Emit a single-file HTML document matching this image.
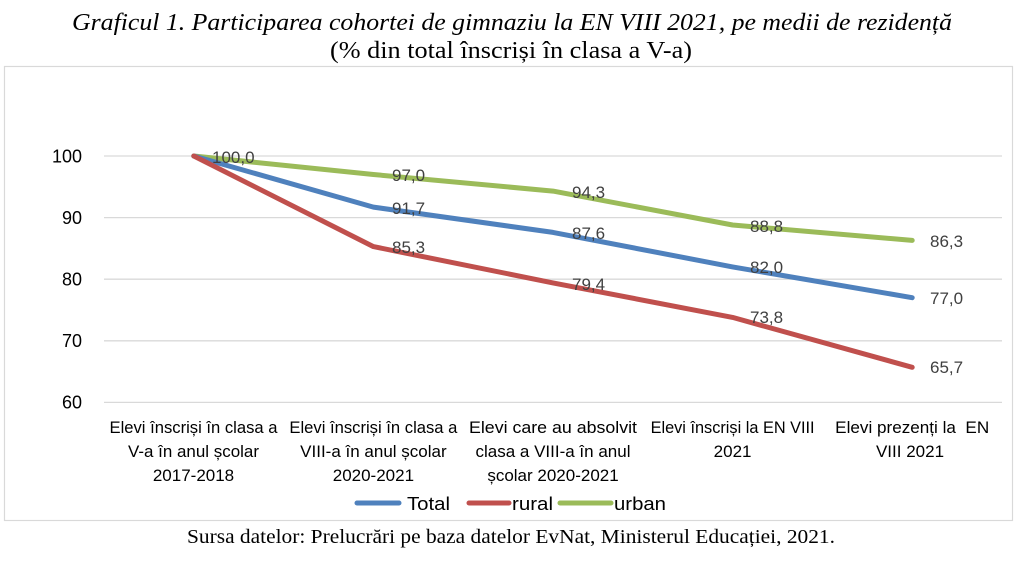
<!DOCTYPE html>
<html>
<head>
<meta charset="utf-8">
<style>
  html,body{margin:0;padding:0;background:#fff;}
  svg{display:block;}
  .ax{font-family:"Liberation Sans",sans-serif;font-size:18px;fill:#000;}
  .dl{font-family:"Liberation Sans",sans-serif;font-size:17px;fill:#404040;}
  .cat{font-family:"Liberation Sans",sans-serif;font-size:17px;fill:#000;}
  .leg{font-family:"Liberation Sans",sans-serif;font-size:18.5px;fill:#000;}
  .ttl{font-family:"Liberation Serif",serif;font-size:24px;fill:#000;}
</style>
</head>
<body>
<svg width="1024" height="574" viewBox="0 0 1024 574" xmlns="http://www.w3.org/2000/svg">
  <rect width="1024" height="574" fill="#fff"/>
  <!-- Title -->
  <text class="ttl" x="512" y="30" text-anchor="middle" font-style="italic" textLength="880" lengthAdjust="spacingAndGlyphs">Graficul 1. Participarea cohortei de gimnaziu la EN VIII 2021, pe medii de rezidență</text>
  <text class="ttl" x="511" y="58" text-anchor="middle" textLength="362" lengthAdjust="spacingAndGlyphs">(% din total înscriși în clasa a V-a)</text>

  <!-- Chart border -->
  <rect x="4.5" y="66.5" width="1008" height="454" fill="#fff" stroke="#d9d9d9" stroke-width="1.2"/>

  <!-- Gridlines -->
  <g stroke="#d9d9d9" stroke-width="1.3">
    <line x1="104" y1="156" x2="1002" y2="156"/>
    <line x1="104" y1="217.6" x2="1002" y2="217.6"/>
    <line x1="104" y1="279.2" x2="1002" y2="279.2"/>
    <line x1="104" y1="340.8" x2="1002" y2="340.8"/>
    <line x1="104" y1="402.4" x2="1002" y2="402.4"/>
  </g>

  <!-- Y tick labels -->
  <g class="ax" text-anchor="end">
    <text x="82" y="162.5">100</text>
    <text x="82" y="224">90</text>
    <text x="82" y="285.5">80</text>
    <text x="82" y="347">70</text>
    <text x="82" y="408.5">60</text>
  </g>

  <!-- Series -->
  <g fill="none" stroke-width="5" stroke-linejoin="round" stroke-linecap="round">
    <polyline stroke="#9BBB59" points="193.8,156 373.4,174.5 553,191.1 732.6,225 912.2,240.4"/>
    <polyline stroke="#4F81BD" points="193.8,156 373.4,207.1 553,232.4 732.6,266.9 912.2,297.7"/>
    <polyline stroke="#C0504D" points="193.8,156 373.4,246.6 553,282.9 732.6,317.4 912.2,367.3"/>
  </g>

  <!-- Data labels -->
  <g class="dl">
    <text x="212" y="163">100,0</text>
    <text x="392" y="181">97,0</text>
    <text x="392" y="214">91,7</text>
    <text x="392" y="253">85,3</text>
    <text x="572" y="198">94,3</text>
    <text x="572" y="239">87,6</text>
    <text x="572" y="290">79,4</text>
    <text x="750" y="232">88,8</text>
    <text x="750" y="273">82,0</text>
    <text x="750" y="323">73,8</text>
    <text x="930" y="247">86,3</text>
    <text x="930" y="304">77,0</text>
    <text x="930" y="373">65,7</text>
  </g>

  <!-- Category labels -->
  <g class="cat" text-anchor="middle">
    <text x="193.5" y="433" textLength="168" lengthAdjust="spacingAndGlyphs">Elevi înscriși în clasa a</text>
    <text x="193.5" y="457" textLength="131" lengthAdjust="spacingAndGlyphs">V-a în anul școlar</text>
    <text x="193.5" y="481">2017-2018</text>

    <text x="373.4" y="433" textLength="168" lengthAdjust="spacingAndGlyphs">Elevi înscriși în clasa a</text>
    <text x="373.4" y="457">VIII-a în anul școlar</text>
    <text x="373.4" y="481">2020-2021</text>

    <text x="553" y="433" textLength="168" lengthAdjust="spacingAndGlyphs">Elevi care au absolvit</text>
    <text x="553" y="457">clasa a VIII-a în anul</text>
    <text x="553" y="481">școlar 2020-2021</text>

    <text x="732.6" y="433" textLength="164" lengthAdjust="spacingAndGlyphs">Elevi înscriși la EN VIII</text>
    <text x="732.6" y="457">2021</text>

    <text x="912.2" y="433" textLength="154" lengthAdjust="spacingAndGlyphs" xml:space="preserve">Elevi prezenți la  EN</text>
    <text x="910" y="457">VIII 2021</text>
  </g>

  <!-- Legend -->
  <g stroke-width="5" stroke-linecap="round">
    <line x1="357" y1="503" x2="399" y2="503" stroke="#4F81BD"/>
    <line x1="469" y1="503" x2="509" y2="503" stroke="#C0504D"/>
    <line x1="560" y1="503" x2="611" y2="503" stroke="#9BBB59"/>
  </g>
  <g class="leg">
    <text x="407" y="510" textLength="43" lengthAdjust="spacingAndGlyphs">Total</text>
    <text x="512" y="510" textLength="41" lengthAdjust="spacingAndGlyphs">rural</text>
    <text x="614" y="510" textLength="52" lengthAdjust="spacingAndGlyphs">urban</text>
  </g>

  <!-- Source -->
  <text class="ttl" x="511" y="543" text-anchor="middle" style="font-size:20px" textLength="648" lengthAdjust="spacingAndGlyphs">Sursa datelor: Prelucrări pe baza datelor EvNat, Ministerul Educației, 2021.</text>
</svg>
</body>
</html>
